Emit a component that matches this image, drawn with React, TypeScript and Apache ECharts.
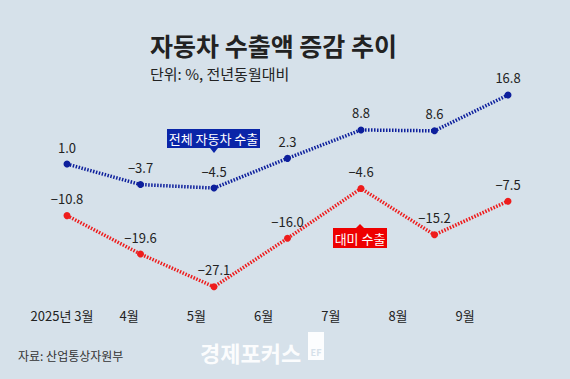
import React, { useEffect, useRef } from "react";
import * as echarts from "echarts";

const months = ["3월", "4월", "5월", "6월", "7월", "8월", "9월"];
const monthLabels = ["2025년 3월", "4월", "5월", "6월", "7월", "8월", "9월"];
const totalExports = [1.0, -3.7, -4.5, 2.3, 8.8, 8.6, 16.8];
const usExports = [-10.8, -19.6, -27.1, -16.0, -4.6, -15.2, -7.5];

const FONT = "'Noto Sans CJK KR', 'Noto Sans', sans-serif";
const BLUE = "#0d1f9c";
const RED = "#ee1c1c";

export default function App() {
  const ref = useRef<HTMLDivElement>(null);
  useEffect(() => {
    if (!ref.current) return;
    const chart = echarts.init(ref.current, null, { renderer: "svg" });
    const fmt = (p: any) => {
      const v = Number(p.value);
      const s = Math.abs(v).toFixed(1);
      return v < 0 ? "\u2212" + s : s;
    };
    const labelCfg = {
      show: true,
      position: "top" as const,
      distance: 7,
      formatter: fmt,
      color: "#222",
      fontSize: 13,
      fontFamily: FONT,
    };
    chart.setOption({
      animation: false,
      backgroundColor: "#d6e1ea",
      textStyle: { fontFamily: FONT },
      grid: [
        { left: 30.25, width: 514.5, top: 81, height: 218.5 },
        { left: 28.4, width: 470.4, top: 81, height: 218.5 },
      ],
      xAxis: [
        {
          type: "category",
          gridIndex: 0,
          data: months,
          boundaryGap: true,
          axisLine: { show: false },
          axisTick: { show: false },
          axisLabel: { show: false },
        },
        {
          type: "category",
          gridIndex: 1,
          data: monthLabels,
          boundaryGap: true,
          axisLine: { show: false },
          axisTick: { show: false },
          axisLabel: {
            color: "#222",
            fontSize: 13,
            fontFamily: FONT,
            margin: 9,
            interval: 0,
          },
        },
      ],
      yAxis: [
        {
          type: "value",
          gridIndex: 0,
          min: -30,
          max: 20,
          show: false,
          splitLine: { show: false },
        },
        {
          type: "value",
          gridIndex: 1,
          min: -30,
          max: 20,
          show: false,
          splitLine: { show: false },
        },
      ],
      series: [
        {
          name: "전체 자동차 수출",
          type: "line",
          xAxisIndex: 0,
          yAxisIndex: 0,
          data: totalExports,
          symbol: "circle",
          symbolSize: 7,
          itemStyle: { color: BLUE },
          lineStyle: { color: BLUE, width: 3.5, type: [1.5, 1.5] },
          label: labelCfg,
        },
        {
          name: "대미 수출",
          type: "line",
          xAxisIndex: 0,
          yAxisIndex: 0,
          data: usExports,
          symbol: "circle",
          symbolSize: 7,
          itemStyle: { color: RED },
          lineStyle: { color: RED, width: 3.5, type: [1.5, 1.5] },
          label: labelCfg,
        },
      ],
      graphic: [
        {
          type: "text",
          x: 150,
          y: 45,
          style: {
            text: "자동차 수출액 증감 추이",
            font: `bold 25px ${FONT}`,
            fill: "#222",
            verticalAlign: "middle",
            lineHeight: 24,
          },
        },
        {
          type: "text",
          x: 150,
          y: 73,
          style: {
            text: "단위: %, 전년동월대비",
            font: `15px ${FONT}`,
            fill: "#222",
            verticalAlign: "middle",
            lineHeight: 14,
          },
        },
        {
          type: "group",
          left: 167,
          top: 129,
          children: [
            {
              type: "rect",
              shape: { x: 0, y: 0, width: 93, height: 19 },
              style: { fill: "#0a25a8" },
            },
            {
              type: "polygon",
              shape: { points: [[43, 19], [51, 19], [47, 24]] },
              style: { fill: "#0a25a8" },
            },
            {
              type: "text",
              x: 46.5,
              y: 9.5,
              style: {
                text: "전체 자동차 수출",
                font: `13px ${FONT}`,
                fill: "#fff",
                align: "center",
                verticalAlign: "middle",
              },
            },
          ],
        },
        {
          type: "group",
          left: 333,
          top: 224,
          children: [
            {
              type: "polygon",
              shape: { points: [[23, 4], [31, 4], [27, 0]] },
              style: { fill: "#ee0000" },
            },
            {
              type: "rect",
              shape: { x: 0, y: 4, width: 54, height: 20 },
              style: { fill: "#ee0000" },
            },
            {
              type: "text",
              x: 27,
              y: 14,
              style: {
                text: "대미 수출",
                font: `13px ${FONT}`,
                fill: "#fff",
                align: "center",
                verticalAlign: "middle",
              },
            },
          ],
        },
        {
          type: "text",
          left: 18,
          top: 349,
          style: {
            text: "자료: 산업통상자원부",
            font: `12px ${FONT}`,
            fill: "#333",
          },
        },
        {
          type: "text",
          x: 200,
          y: 352,
          style: {
            text: "경제포커스",
            font: `bold 22px ${FONT}`,
            fill: "rgba(255,255,255,0.92)",
            verticalAlign: "middle",
            lineHeight: 22,
          },
        },
        {
          type: "group",
          left: 308,
          top: 332,
          children: [
            {
              type: "rect",
              shape: { x: 0, y: 0, width: 16, height: 28 },
              style: { fill: "rgba(255,255,255,0.92)" },
            },
            {
              type: "text",
              x: 8,
              y: 20,
              style: {
                text: "EF",
                font: `bold 9px ${FONT}`,
                fill: "#d6e1ea",
                align: "center",
                verticalAlign: "middle",
              },
            },
          ],
        },
      ],
    });
    return () => chart.dispose();
  }, []);
  return (
    <div
      ref={ref}
      style={{ position: "fixed", left: 0, top: 0, width: 570, height: 379 }}
    />
  );
}
